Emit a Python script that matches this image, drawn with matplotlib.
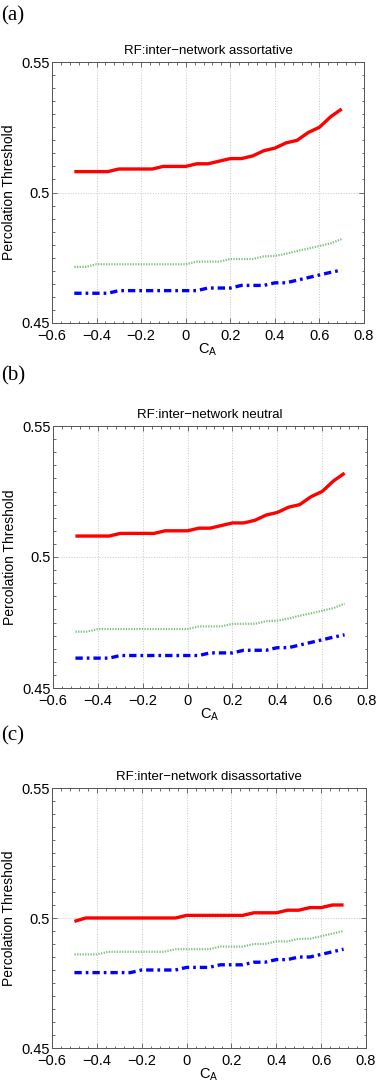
import numpy as np
import matplotlib
matplotlib.use("Agg")
import matplotlib.pyplot as plt
from matplotlib.ticker import MultipleLocator

# C_A values, -0.5 .. 0.7 in steps of 0.05
ca = [-0.5, -0.45, -0.4, -0.35, -0.3, -0.25, -0.2, -0.15, -0.1, -0.05, 0.0,
      0.05, 0.1, 0.15, 0.2, 0.25, 0.3, 0.35, 0.4, 0.45, 0.5, 0.55, 0.6, 0.65, 0.7]

# panel (a) assortative
red_a = [0.508, 0.508, 0.508, 0.508, 0.509, 0.509, 0.509, 0.509, 0.510, 0.510, 0.510,
         0.511, 0.511, 0.512, 0.513, 0.513, 0.514, 0.516, 0.517, 0.519, 0.520, 0.523,
         0.525, 0.529, 0.532]
green_a = [0.4715, 0.4715, 0.4725, 0.4725, 0.4725, 0.4725, 0.4725, 0.4725, 0.4725, 0.4725,
           0.4725, 0.4735, 0.4735, 0.4735, 0.4745, 0.4745, 0.4745, 0.4755, 0.4757, 0.4765,
           0.4776, 0.4785, 0.4795, 0.4805, 0.4822]
blue_a = [0.4614, 0.4614, 0.4614, 0.4614, 0.4624, 0.4624, 0.4624, 0.4624, 0.4624, 0.4624,
          0.4624, 0.4624, 0.4634, 0.4634, 0.4634, 0.4644, 0.4644, 0.4644, 0.4654, 0.4654,
          0.4664, 0.4674, 0.4684, 0.4694, 0.4703]

# panel (b) neutral (looks the same as (a))
red_b = list(red_a)
green_b = list(green_a)
blue_b = list(blue_a)

# panel (c) disassortative
red_c = [0.4987, 0.500, 0.500, 0.500, 0.500, 0.500, 0.500, 0.500, 0.500, 0.500, 0.501,
         0.501, 0.501, 0.501, 0.501, 0.501, 0.502, 0.502, 0.502, 0.503, 0.503, 0.504,
         0.504, 0.505, 0.505]
green_c = [0.486, 0.486, 0.486, 0.487, 0.487, 0.487, 0.487, 0.487, 0.487, 0.488, 0.488,
           0.488, 0.488, 0.489, 0.489, 0.489, 0.490, 0.490, 0.491, 0.491, 0.492, 0.492,
           0.493, 0.494, 0.495]
blue_c = [0.479, 0.479, 0.479, 0.479, 0.479, 0.479, 0.480, 0.480, 0.480, 0.480, 0.481,
          0.481, 0.481, 0.482, 0.482, 0.482, 0.483, 0.483, 0.484, 0.484, 0.485, 0.485,
          0.486, 0.487, 0.488]

titles = ["RF:inter\u2212network assortative",
          "RF:inter\u2212network neutral",
          "RF:inter\u2212network disassortative"]
letters = ["(a)", "(b)", "(c)"]
xticks = [-0.6, -0.4, -0.2, 0, 0.2, 0.4, 0.6, 0.8]
xticklabels = ["\u22120.6", "\u22120.4", "\u22120.2", "0", "0.2", "0.4", "0.6", "0.8"]
yticks = [0.45, 0.5, 0.55]
yticklabels = ["0.45", "0.5", "0.55"]

series = [(red_a, green_a, blue_a), (red_b, green_b, blue_b), (red_c, green_c, blue_c)]

# axes boxes in pixels: left, right, top, bottom
boxes = [(52, 364, 62, 323), (53, 367, 426, 688), (52, 366, 788, 1048)]
letter_y = [16, 376, 736]

W, H = 382, 1090
plt.rcParams['font.family'] = ['Liberation Sans', 'DejaVu Sans']
fig = plt.figure(figsize=(W / 100, H / 100), dpi=100)

for i in range(3):
    l, r, t, b = boxes[i]
    ax = fig.add_axes([l / W, 1 - b / H, (r - l) / W, (b - t) / H])
    red, green, blue = series[i]
    ax.plot(ca, red, color='red', lw=2.4, solid_capstyle='butt')
    ax.plot(ca, green, color='#80c080', lw=1.6, linestyle=(0, (0.6, 0.6)))
    ax.plot(ca, blue, color='blue', lw=2.4, linestyle=(0, (2.2, 1.2, 0.8, 1.2)))

    ax.set_xlim(-0.6, 0.8)
    ax.set_ylim(0.45, 0.55)
    ax.set_xticks(xticks)
    ax.set_xticklabels(xticklabels)
    ax.set_yticks(yticks)
    ax.set_yticklabels(yticklabels)
    ax.xaxis.set_minor_locator(MultipleLocator(0.04))
    ax.yaxis.set_minor_locator(MultipleLocator(0.005))
    ax.tick_params(which='both', direction='in', top=True, right=True,
                   color='#555555', width=0.6)
    ax.tick_params(which='major', length=3.5, labelsize=10.5)
    ax.tick_params(axis='x', which='major', pad=4)
    ax.tick_params(axis='y', which='major', pad=1.5)
    ax.tick_params(which='minor', length=1.8)
    ax.grid(True, which='major', color='#c8c8c8', linestyle=':', lw=0.7)
    for s in ax.spines.values():
        s.set_color('#555555')
        s.set_linewidth(0.7)

    ax.set_title(titles[i], fontsize=9.5, pad=6)
    ax.set_xlabel("C$_\\mathregular{A}$", fontsize=10.5, labelpad=-1)
    ax.set_ylabel("Percolation Threshold", fontsize=10, labelpad=4)

    fig.text(1 / W, 1 - letter_y[i] / H, letters[i], fontsize=15,
             family='Liberation Serif', va='center', ha='left')

fig.savefig("out.png", dpi=100)
